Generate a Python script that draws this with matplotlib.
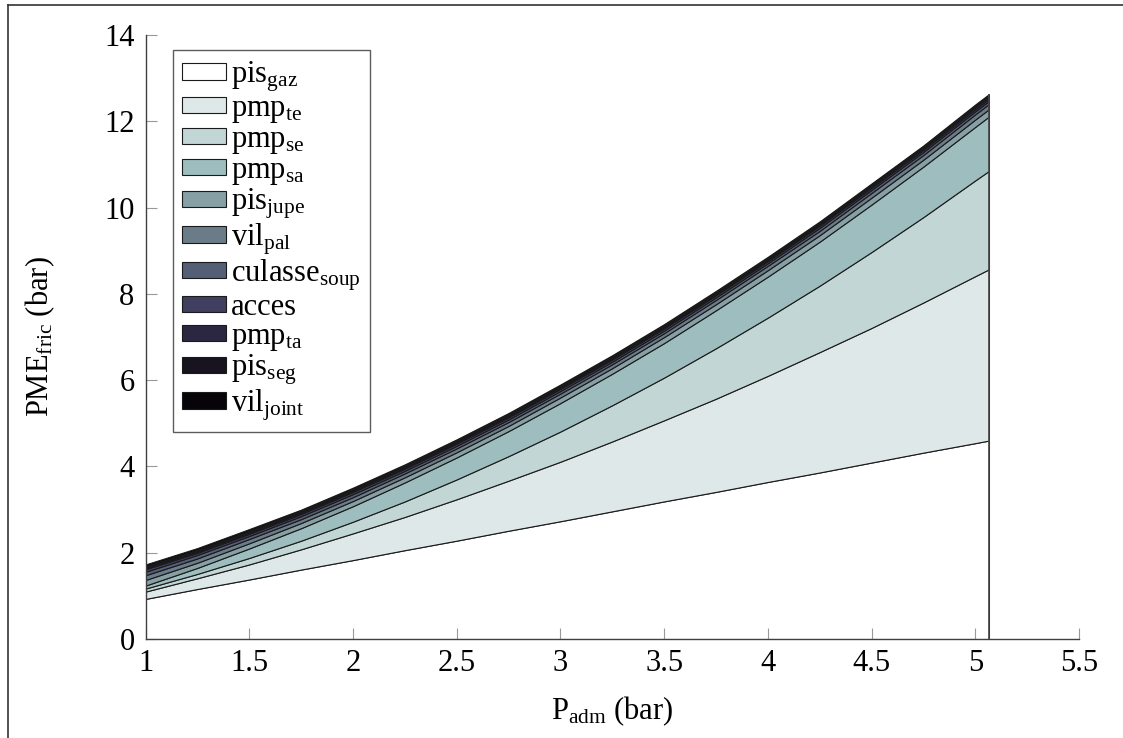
import matplotlib
matplotlib.use("Agg")
import matplotlib.pyplot as plt
from matplotlib.lines import Line2D
import numpy as np

plt.rcParams["font.family"] = ["Liberation Serif", "DejaVu Serif"]
plt.rcParams["mathtext.fontset"] = "custom"
plt.rcParams["mathtext.rm"] = "Liberation Serif"
plt.rcParams["mathtext.it"] = "Liberation Serif:italic"
plt.rcParams["font.size"] = 22

# intake pressure (bar)
p_adm = [1.0, 1.25, 1.5, 1.75, 2.0, 2.25, 2.5, 2.75, 3.0,
         3.25, 3.5, 3.75, 4.0, 4.25, 4.5, 4.75, 5.0, 5.066]

# friction mean effective pressure contributions (bar), bottom to top
pis_gaz = [0.93, 1.16, 1.38, 1.61, 1.83, 2.06, 2.28, 2.51, 2.73,
           2.96, 3.19, 3.41, 3.64, 3.86, 4.09, 4.32, 4.54, 4.60]
pmp_te = [0.17, 0.25, 0.35, 0.47, 0.62, 0.77, 0.96, 1.16, 1.38,
          1.62, 1.88, 2.16, 2.46, 2.79, 3.12, 3.48, 3.87, 3.97]
pmp_se = [0.07, 0.10, 0.15, 0.20, 0.27, 0.36, 0.46, 0.57, 0.70,
          0.84, 0.99, 1.17, 1.35, 1.54, 1.76, 1.98, 2.22, 2.28]
pmp_sa = [0.07, 0.14, 0.22, 0.29, 0.36, 0.44, 0.51, 0.58, 0.66,
          0.73, 0.80, 0.88, 0.95, 1.02, 1.10, 1.17, 1.24, 1.26]
pis_jupe = [0.13, 0.12, 0.12, 0.12, 0.12, 0.12, 0.12, 0.12, 0.13,
            0.13, 0.14, 0.14, 0.15, 0.15, 0.16, 0.16, 0.17, 0.17]
vil_pal = [0.11, 0.10, 0.10, 0.09, 0.09, 0.09, 0.09, 0.09, 0.09,
           0.09, 0.09, 0.10, 0.10, 0.10, 0.11, 0.11, 0.12, 0.12]
culasse_soup = [0.08, 0.08, 0.07, 0.07, 0.07, 0.06, 0.06, 0.06, 0.06,
                0.06, 0.06, 0.06, 0.06, 0.07, 0.07, 0.07, 0.07, 0.07]
acces = [0.06, 0.05, 0.05, 0.05, 0.05, 0.05, 0.05, 0.05, 0.05,
         0.05, 0.05, 0.05, 0.05, 0.05, 0.05, 0.05, 0.05, 0.05]
pmp_ta = [0.03, 0.03, 0.03, 0.03, 0.03, 0.03, 0.03, 0.03, 0.03,
          0.03, 0.03, 0.03, 0.03, 0.03, 0.04, 0.04, 0.05, 0.05]
pis_seg = [0.04, 0.04, 0.04, 0.04, 0.04, 0.04, 0.04, 0.04, 0.04,
           0.04, 0.04, 0.04, 0.04, 0.04, 0.03, 0.03, 0.03, 0.03]
vil_joint = [0.04, 0.04, 0.04, 0.03, 0.03, 0.03, 0.03, 0.03, 0.03,
             0.03, 0.03, 0.03, 0.03, 0.03, 0.03, 0.03, 0.03, 0.03]

layers = [pis_gaz, pmp_te, pmp_se, pmp_sa, pis_jupe, vil_pal,
          culasse_soup, acces, pmp_ta, pis_seg, vil_joint]
labels = [r"pis$_{\mathrm{gaz}}$", r"pmp$_{\mathrm{te}}$", r"pmp$_{\mathrm{se}}$",
          r"pmp$_{\mathrm{sa}}$", r"pis$_{\mathrm{jupe}}$", r"vil$_{\mathrm{pal}}$",
          r"culasse$_{\mathrm{soup}}$", r"acces", r"pmp$_{\mathrm{ta}}$",
          r"pis$_{\mathrm{seg}}$", r"vil$_{\mathrm{joint}}$"]
colors = ["#ffffff", "#dfe8e8", "#c2d6d6", "#9ebdbe", "#86a0a5", "#6b7c89",
          "#545e77", "#413f5f", "#2b2740", "#17131f", "#060408"]

x_ticks = [1, 1.5, 2, 2.5, 3, 3.5, 4, 4.5, 5, 5.5]
x_ticklabels = ["1", "1.5", "2", "2.5", "3", "3.5", "4", "4.5", "5", "5.5"]
y_ticks = [0, 2, 4, 6, 8, 10, 12, 14]

fig = plt.figure(figsize=(11.23, 7.38), dpi=100)
ax = fig.add_axes([0.1297, 0.1341, 0.8311, 0.8185])

ax.stackplot(p_adm, *layers, labels=labels, colors=colors,
             edgecolor="#1a1a1a", linewidth=0.8)

# closing edges of the stacked area
top = np.sum(layers, axis=0)
ax.vlines([p_adm[0], p_adm[-1]], 0, [top[0], top[-1]], color="#444444", lw=1.2)

ax.set_xlim(1, 5.5)
ax.set_ylim(0, 14)
ax.set_xticks(x_ticks)
ax.set_xticklabels(x_ticklabels)
ax.set_yticks(y_ticks)
ax.spines["top"].set_visible(False)
ax.spines["right"].set_visible(False)
for s in ["left", "bottom"]:
    ax.spines[s].set_color("#404040")
    ax.spines[s].set_linewidth(1.0)
ax.tick_params(direction="in", length=8, width=0.8, color="#999999")
ax.tick_params(axis="x", pad=7)
ax.tick_params(axis="y", pad=8)

ax.set_xlabel(r"P$_{\mathrm{adm}}$ (bar)", labelpad=12)
ax.set_ylabel(r"PME$_{\mathrm{fric}}$ (bar)", labelpad=34)

leg = ax.legend(loc="upper left", bbox_to_anchor=(0.029, 0.975), fontsize=22,
                frameon=True, fancybox=False, edgecolor="#333333",
                handlelength=1.45, handleheight=0.45, handletextpad=0.15,
                labelspacing=0.0, borderpad=0.3, borderaxespad=0.0)
leg.get_frame().set_linewidth(1.0)
for h in leg.legend_handles:
    h.set_edgecolor("#1a1a1a")
    h.set_linewidth(0.8)

# page frame seen around the figure
fx = 8 / 1123
fy = 1 - 5 / 738
fig.add_artist(Line2D([fx, fx], [0, fy], transform=fig.transFigure, color="#333333", lw=1.2))
fig.add_artist(Line2D([fx, 1], [fy, fy], transform=fig.transFigure, color="#333333", lw=1.2))

fig.savefig("out.png", dpi=100)
